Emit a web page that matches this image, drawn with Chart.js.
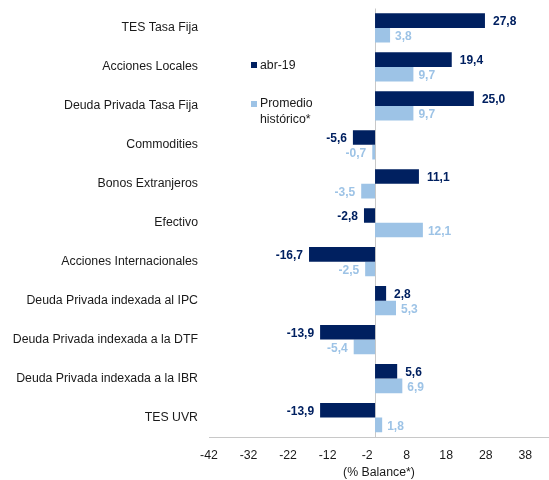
<!DOCTYPE html>
<html>
<head>
<meta charset="utf-8">
<script src="https://cdn.jsdelivr.net/npm/chart.js@4"></script>
<style>
  body { margin: 0; background: #ffffff; }
  #wrap { width: 549px; height: 480px; }
</style>
</head>
<body>
<div id="wrap"><canvas id="canvas_grafico" width="549" height="480"></canvas></div>
<script>
const categorias = [
    'TES Tasa Fija',
    'Acciones Locales',
    'Deuda Privada Tasa Fija',
    'Commodities',
    'Bonos Extranjeros',
    'Efectivo',
    'Acciones Internacionales',
    'Deuda Privada indexada al IPC',
    'Deuda Privada indexada a la DTF',
    'Deuda Privada indexada a la IBR',
    'TES UVR'
];
const abr19 = [27.8, 19.4, 25.0, -5.6, 11.1, -2.8, -16.7, 2.8, -13.9, 5.6, -13.9];
const promedioHistorico = [3.8, 9.7, 9.7, -0.7, -3.5, 12.1, -2.5, 5.3, -5.4, 6.9, 1.8];
const ticksX = [-42, -32, -22, -12, -2, 8, 18, 28, 38];

const AZUL = '#002060';
const CELESTE = '#9DC3E6';
const FUENTE = "'Liberation Sans', Arial, sans-serif";

// linea vertical en cero
const lineaCero = {
    id: 'lineaCero',
    beforeDatasetsDraw(chart) {
        const {ctx, chartArea, scales} = chart;
        const x = Math.round(scales.x.getPixelForValue(0)) + 0.5;
        ctx.save();
        ctx.strokeStyle = '#c8c8c8';
        ctx.lineWidth = 1;
        ctx.beginPath();
        ctx.moveTo(x, chartArea.top);
        ctx.lineTo(x, chartArea.bottom);
        ctx.stroke();
        ctx.restore();
    }
};

// etiquetas de valor al final de cada barra
const etiquetas = {
    id: 'etiquetas',
    afterDatasetsDraw(chart) {
        const ctx = chart.ctx;
        ctx.save();
        ctx.font = 'bold 12px ' + FUENTE;
        ctx.textBaseline = 'middle';
        chart.data.datasets.forEach((ds, i) => {
            const meta = chart.getDatasetMeta(i);
            const gap = i === 0 ? 8 : 5;
            ctx.fillStyle = i === 0 ? AZUL : CELESTE;
            meta.data.forEach((bar, j) => {
                const v = ds.data[j];
                const txt = v.toFixed(1).replace('.', ',');
                if (v >= 0) {
                    ctx.textAlign = 'left';
                    ctx.fillText(txt, bar.x + gap, bar.y + 1.5);
                } else {
                    ctx.textAlign = 'right';
                    ctx.fillText(txt, bar.x - 6, bar.y + 1.5);
                }
            });
        });
        ctx.restore();
    }
};

// leyenda dentro del area del grafico
const leyenda = {
    id: 'leyenda',
    afterDraw(chart) {
        const ctx = chart.ctx;
        ctx.save();
        ctx.font = '12.3px ' + FUENTE;
        ctx.textBaseline = 'middle';
        ctx.textAlign = 'left';
        ctx.fillStyle = AZUL;
        ctx.fillRect(251, 62, 6, 6);
        ctx.fillStyle = CELESTE;
        ctx.fillRect(251, 101, 6, 6);
        ctx.fillStyle = '#1a1a1a';
        ctx.fillText('abr-19', 260, 65.5);
        ctx.fillText('Promedio', 260, 104);
        ctx.fillText('histórico*', 260, 120);
        ctx.restore();
    }
};

const ctx = document.getElementById('canvas_grafico').getContext('2d');
new Chart(ctx, {
    type: 'bar',
    data: {
        labels: categorias,
        datasets: [{
            label: 'abr-19',
            data: abr19,
            backgroundColor: AZUL,
            categoryPercentage: 0.75,
            barPercentage: 1
        }, {
            label: 'Promedio histórico*',
            data: promedioHistorico,
            backgroundColor: CELESTE,
            categoryPercentage: 0.75,
            barPercentage: 1
        }]
    },
    options: {
        indexAxis: 'y',
        responsive: false,
        animation: false,
        layout: {
            padding: { top: 8.5, left: 0, right: 0, bottom: 0 }
        },
        scales: {
            x: {
                min: -42,
                max: 44,
                afterBuildTicks: function(scale) {
                    scale.ticks = ticksX.map(v => ({ value: v }));
                },
                afterFit: function(scale) {
                    scale.height = 43;
                    scale.paddingLeft = 0;
                    scale.paddingRight = 0;
                },
                grid: { display: false, drawTicks: false },
                border: { display: true, color: '#c8c8c8', width: 1 },
                ticks: {
                    padding: 11,
                    color: '#1a1a1a',
                    font: { family: FUENTE, size: 12.3 }
                },
                title: {
                    display: true,
                    text: '(% Balance*)',
                    color: '#1a1a1a',
                    padding: 0,
                    font: { family: FUENTE, size: 12.3 }
                }
            },
            y: {
                afterFit: function(scale) {
                    scale.width = 209;
                    scale.paddingTop = 0;
                    scale.paddingBottom = 0;
                },
                grid: { display: false, drawTicks: false },
                border: { display: false },
                ticks: {
                    padding: 11,
                    color: '#1a1a1a',
                    font: { family: FUENTE, size: 12.3 }
                }
            }
        },
        plugins: {
            legend: { display: false },
            tooltip: { enabled: false }
        }
    },
    plugins: [lineaCero, etiquetas, leyenda]
});
</script>
</body>
</html>
